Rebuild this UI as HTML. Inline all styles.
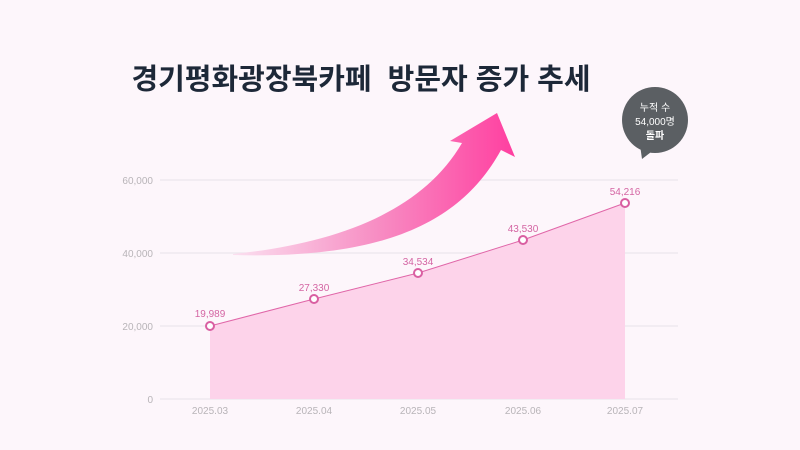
<!DOCTYPE html>
<html><head><meta charset="utf-8"><style>
body{margin:0;background:#fdf6fb;}
svg{display:block;font-family:"Liberation Sans","Noto Sans CJK KR",sans-serif;}
</style></head><body>
<svg width="800" height="450" viewBox="0 0 800 450">
<defs>
<linearGradient id="ag" x1="233" y1="0" x2="515" y2="0" gradientUnits="userSpaceOnUse">
<stop offset="0" stop-color="#fbe0f0"/><stop offset="0.5" stop-color="#f78fc4"/><stop offset="1" stop-color="#ff3fa0"/>
</linearGradient>
</defs>
<rect width="800" height="450" fill="#fdf6fb"/>
<text x="361" y="89" text-anchor="middle" font-size="29" font-weight="bold" fill="#1d2838">경기평화광장북카페&#160; 방문자 증가 추세</text>
<g stroke="#ece6ec" stroke-width="1.2">
<line x1="160" y1="180" x2="678" y2="180"/>
<line x1="160" y1="253" x2="678" y2="253"/>
<line x1="160" y1="326" x2="678" y2="326"/>
<line x1="160" y1="399" x2="678" y2="399"/>
</g>
<g font-size="10" fill="#b8b4b8" text-anchor="end">
<text x="153" y="184">60,000</text><text x="153" y="257">40,000</text><text x="153" y="330">20,000</text><text x="153" y="403">0</text>
</g>
<g font-size="10" fill="#b8b4b8" text-anchor="middle">
<text x="210" y="414">2025.03</text><text x="314" y="414">2025.04</text><text x="418" y="414">2025.05</text><text x="523" y="414">2025.06</text><text x="625" y="414">2025.07</text>
</g>
<path d="M233,254 C330,244 420,215 462,143 L450,141 L497,113 L515,157 L501,150 C460,225 380,259 233,255 Z" fill="url(#ag)"/>
<path d="M210,326 L314,299 L418,273 L523,240 L625,203 L625,399 L210,399 Z" fill="#fdd3ea"/>
<polyline points="210,326 314,299 418,273 523,240 625,203" fill="none" stroke="#e066a8" stroke-width="1"/>
<g fill="#fff" stroke="#d95fa2" stroke-width="2">
<circle cx="210" cy="326" r="4"/><circle cx="314" cy="299" r="4"/><circle cx="418" cy="273" r="4"/><circle cx="523" cy="240" r="4"/><circle cx="625" cy="203" r="4"/>
</g>
<g font-size="10" fill="#d465a3" text-anchor="middle">
<text x="210" y="317">19,989</text><text x="314" y="291">27,330</text><text x="418" y="265">34,534</text><text x="523" y="232">43,530</text><text x="625" y="195">54,216</text>
</g>
<path d="M640,145 L642,159 L655,149 Z" fill="#5b5f63"/>
<circle cx="655" cy="120" r="33" fill="#5b5f63"/>
<g font-size="10" fill="#fff" text-anchor="middle">
<text x="655" y="111">누적 수</text><text x="655" y="125">54,000명</text><text x="655" y="139" font-weight="bold">돌파</text>
</g>
</svg>
</body></html>
